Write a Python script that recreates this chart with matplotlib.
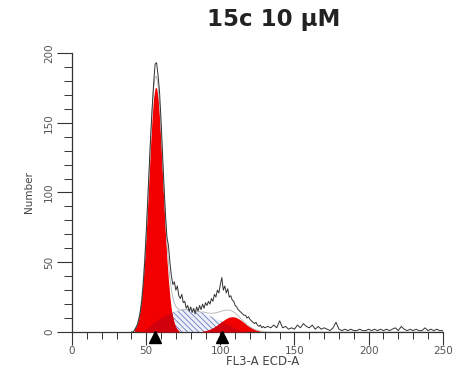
import numpy as np
import matplotlib
matplotlib.use("Agg")
import matplotlib.pyplot as plt
from matplotlib.ticker import MultipleLocator

plt.rcParams['font.family'] = ['DejaVu Sans']
plt.rcParams['hatch.color'] = '#6a7cc0'
plt.rcParams['hatch.linewidth'] = 0.6

# measured histogram, channels 40..130 step 1
hist_core = [0, 0, 1, 3, 5, 9, 14, 22, 34, 50,
             70, 93, 116, 140, 160, 178, 192, 193, 184, 172,
             152, 128, 105, 84, 68, 62, 50, 40, 34, 36,
             30, 33, 26, 24, 27, 21, 22, 17, 19, 15,
             18, 14, 17, 13, 18, 15, 19, 16, 20, 17,
             21, 19, 22, 20, 24, 22, 27, 25, 30, 28,
             34, 39, 30, 33, 28, 31, 25, 26, 23, 22,
             19, 18, 16, 15, 14, 13, 12, 12, 10, 11,
             9, 8, 7, 6, 7, 5, 4, 5, 3, 4, 3]
# tail, channels 132..250 step 2
hist_tail = [4, 3, 5, 3, 8, 3, 4, 2, 3, 2,
             5, 3, 6, 4, 3, 5, 2, 4, 2, 3,
             2, 1, 3, 7, 2, 1, 2, 1, 2, 1,
             1, 2, 1, 1, 2, 1, 2, 1, 2, 1,
             2, 1, 2, 3, 1, 4, 2, 1, 2, 1,
             2, 1, 1, 3, 1, 2, 1, 2, 1, 1]
hist_x = list(range(40, 131)) + list(range(132, 251, 2))
hist_y = hist_core + hist_tail

# G1 model, channels 42..72
g1_x = list(range(42, 73))
g1_y = [1.8, 3.4, 5.9, 10, 16, 25, 37, 52, 70, 91,
        113, 135, 154, 168, 175, 175, 168, 154, 135, 113,
        91, 70, 52, 37, 25, 16, 10, 6, 3.4, 1.8, 0.8]

# S-phase model, channels 46..118 step 2
s_x = list(range(46, 119, 2))
s_y = [0, 1, 2.5, 4, 6, 7.5, 9, 10.5, 11.5, 12.5,
       13.5, 14.5, 15, 15.5, 16, 16, 16, 16, 15.5, 15,
       14.5, 14, 13, 12, 11, 10, 9, 8, 7, 6,
       5, 4, 3, 2, 1, 0.5, 0]

# G2 model, channels 88..132 step 2
g2_x = list(range(88, 133, 2))
g2_y = [0.5, 0.9, 1.5, 2.4, 3.6, 5.0, 6.7, 8.3, 9.7, 10.7,
        11, 10.7, 9.7, 8.3, 6.7, 5.0, 3.6, 2.4, 1.5, 0.9,
        0.5, 0.2, 0]

peak_marks = [56, 101]

fig = plt.figure(figsize=(4.56, 3.70), dpi=100)
ax = fig.add_axes([0.158, 0.1027, 0.813, 0.7543])

# put all models on one grid
grid = np.arange(40, 251, 0.5)
g1 = np.interp(grid, g1_x, g1_y, left=0, right=0)
s = np.interp(grid, s_x, s_y, left=0, right=0)
g2 = np.interp(grid, g2_x, g2_y, left=0, right=0)

ax.fill_between(grid, 0, s, where=s > 0, facecolor='#eef0f9', edgecolor='#6a7cc0',
                hatch='\\\\\\\\\\\\', linewidth=0, zorder=1)
ax.fill_between(grid, 0, g1, where=g1 > 0, color='#f20000', linewidth=0, zorder=2)
ax.fill_between(grid, 0, g2, where=g2 > 0, color='#f20000', linewidth=0, zorder=2)
ax.fill_between(grid, 0, np.minimum(s, g1), color='#d2000c', linewidth=0, zorder=3)
ax.fill_between(grid, 0, np.minimum(s, g2), color='#d2000c', linewidth=0, zorder=3)
ax.plot(grid, g1 + s + g2, color='#b0b0b0', lw=0.6, zorder=4)
ax.plot(hist_x, hist_y, color='#333333', lw=0.7, zorder=5)

ax.plot(peak_marks, [-3.5] * len(peak_marks), marker='^', ls='none', color='black',
        markersize=8, clip_on=False, zorder=6)

ax.set_xlim(0, 250)
ax.set_ylim(0, 200)
ax.spines['top'].set_visible(False)
ax.spines['right'].set_visible(False)
for sp in ('left', 'bottom'):
    ax.spines[sp].set_color('#333333')
    ax.spines[sp].set_linewidth(0.9)
ax.xaxis.set_major_locator(MultipleLocator(50))
ax.xaxis.set_minor_locator(MultipleLocator(10))
ax.yaxis.set_major_locator(MultipleLocator(50))
ax.yaxis.set_minor_locator(MultipleLocator(10))
ax.tick_params(which='major', length=9, width=0.8, color='#333333',
               labelsize=7.5, labelcolor='#555555', pad=1)
ax.tick_params(which='minor', length=5, width=0.7, color='#333333')
ax.tick_params(axis='y', which='major', length=11, pad=2)
ax.tick_params(axis='y', which='minor', length=6)
for lab in ax.get_yticklabels():
    lab.set_rotation(90)
    lab.set_va('center')

fig.text(0.575, 0.022, 'FL3-A ECD-A', ha='center', va='center', fontsize=8.5,
         color='#444444')
ax.set_ylabel('Number', fontsize=7.5, color='#444444', labelpad=7)
fig.text(0.601, 0.947, '15c 10 μM', ha='center', va='center', fontsize=16.5,
         fontweight='bold', color='#222222')

plt.savefig('out.png', dpi=100)
